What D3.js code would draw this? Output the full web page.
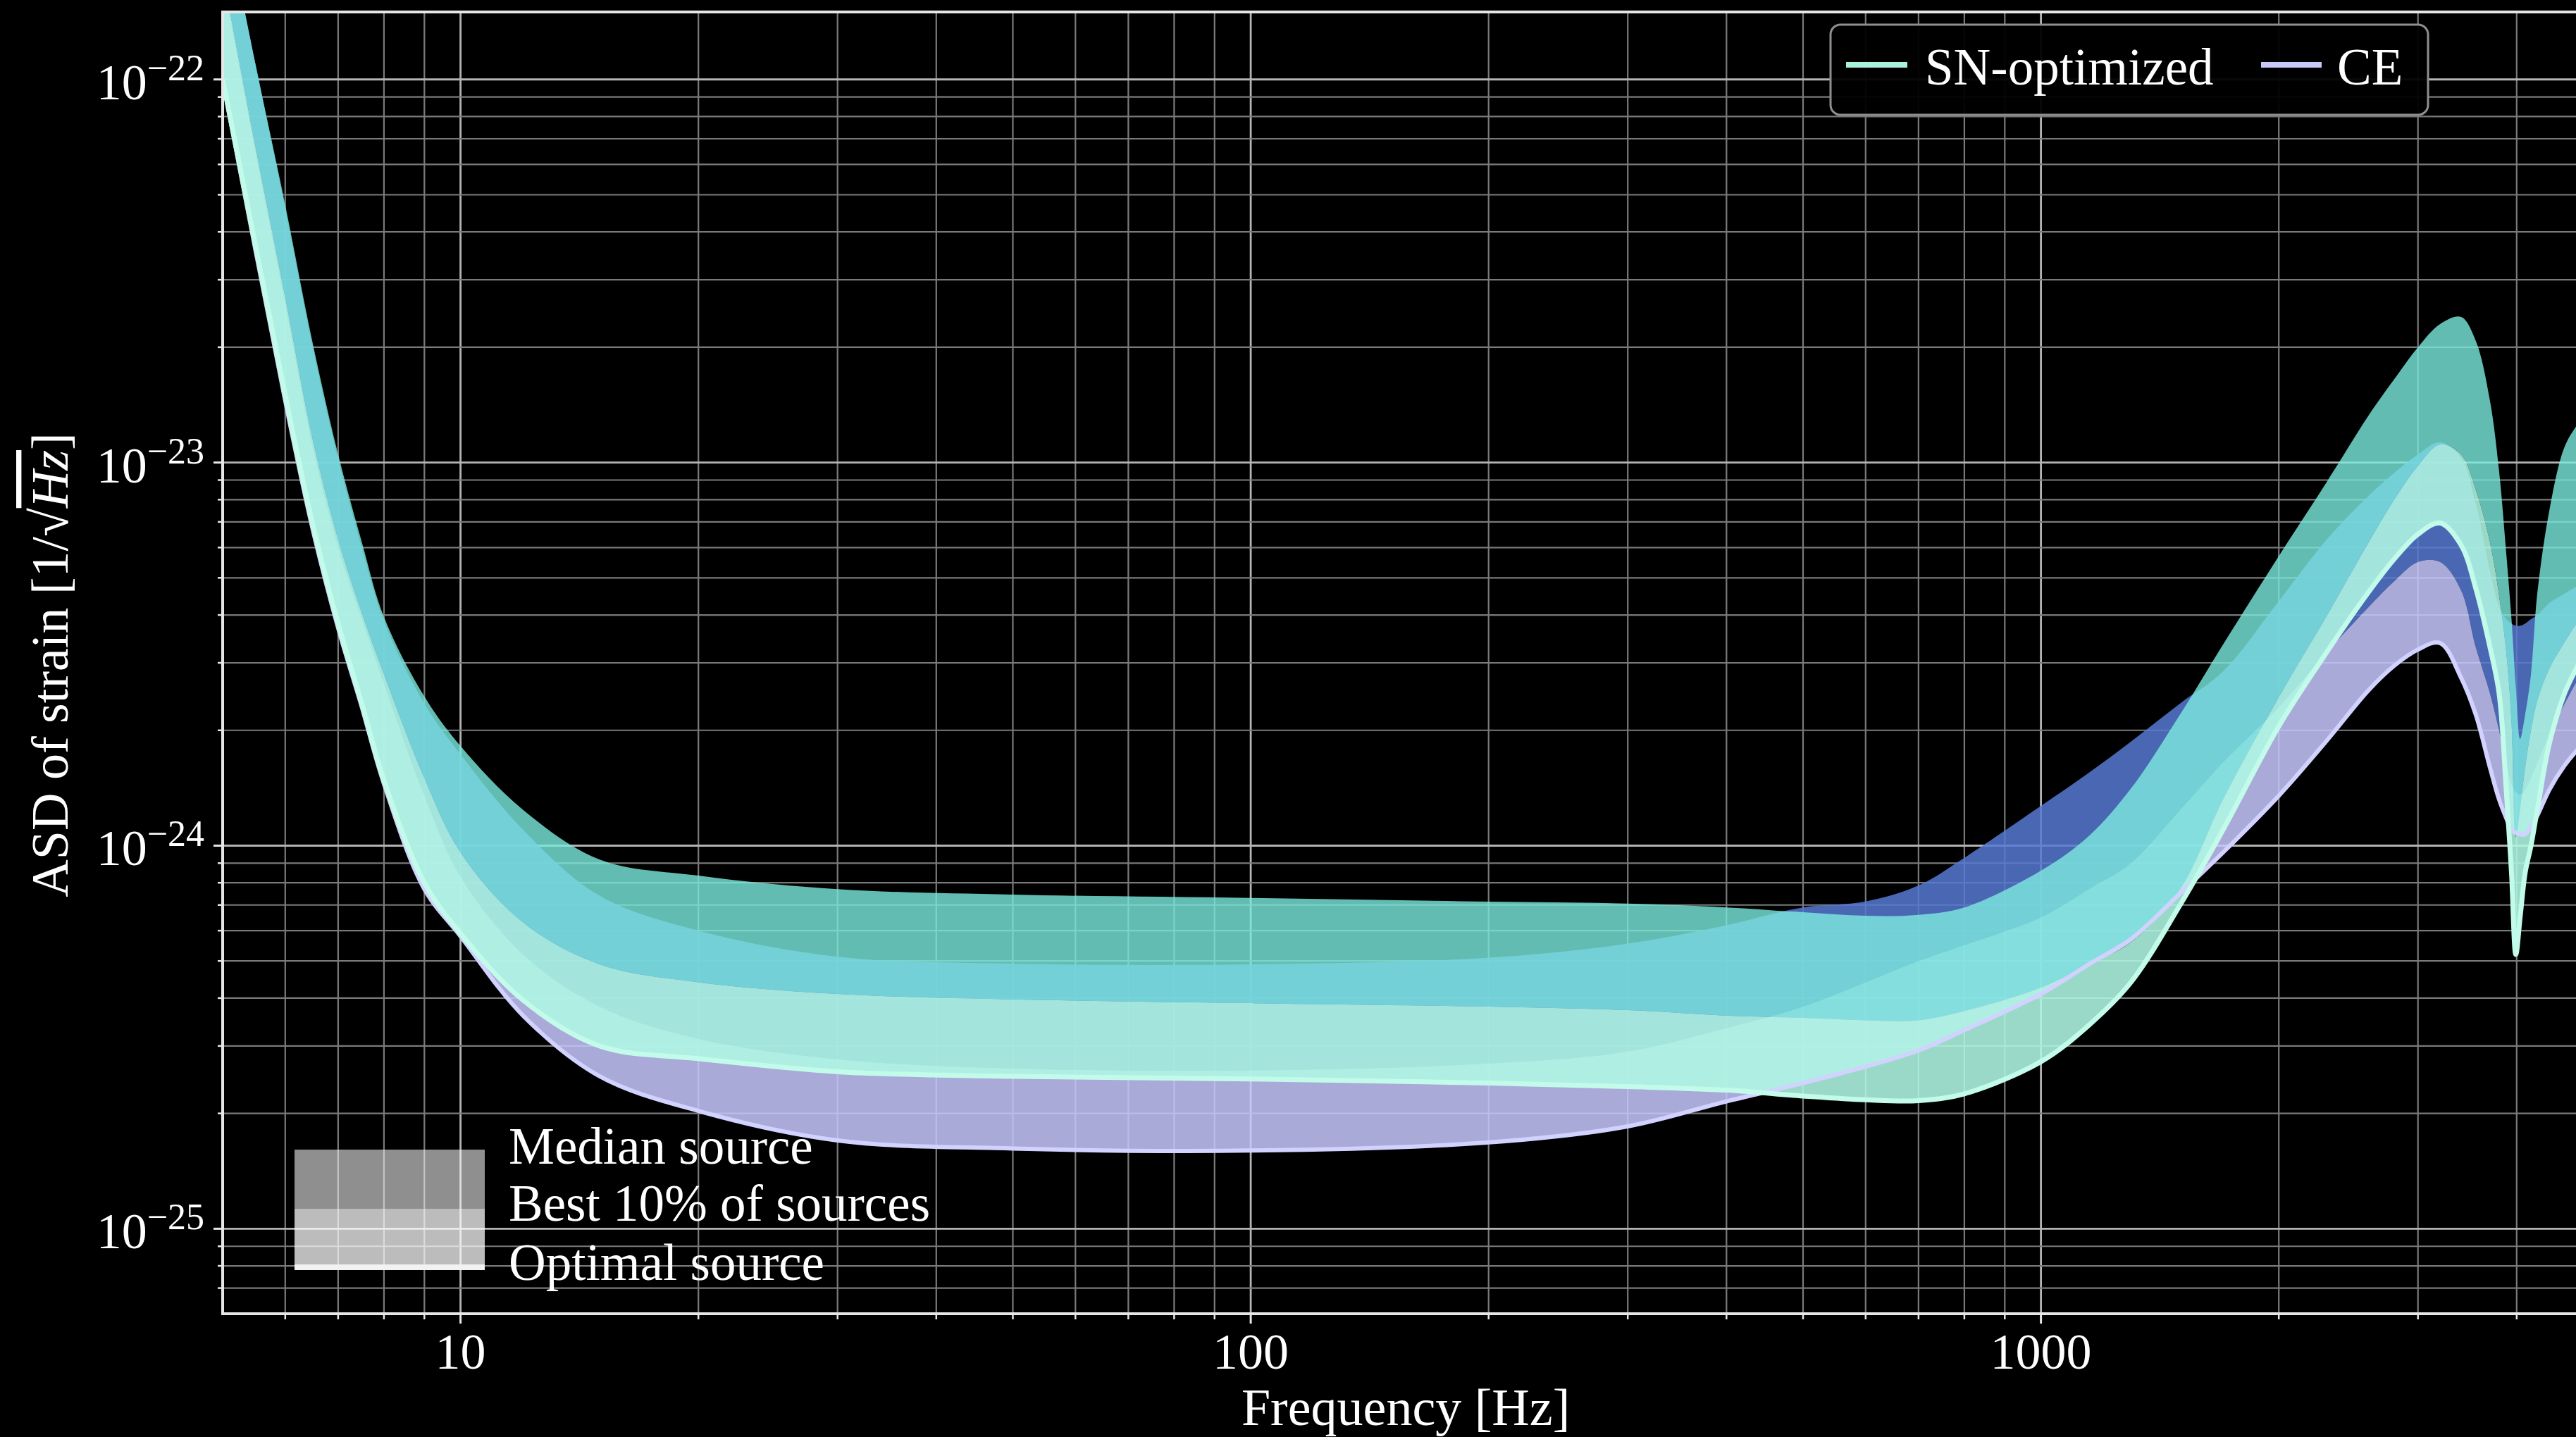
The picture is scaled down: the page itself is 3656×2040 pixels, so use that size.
<!DOCTYPE html>
<html>
<head>
<meta charset="utf-8">
<script src="https://cdn.jsdelivr.net/npm/d3@7"></script>
<style>
  html, body { margin: 0; padding: 0; background: #000; }
  svg { display: block; }
</style>
</head>
<body>
<svg id="chart" width="3656" height="2040"></svg>
<script>
// Frequencies (Hz) at which the strain ASD curves are sampled
const freq = [5, 5.5, 6, 6.5, 7, 7.5, 8, 9, 10, 12, 15, 20, 30, 50, 100, 200, 300, 400, 500, 600,
  700, 800, 1000, 1150, 1300, 1500, 1700, 2000, 2300, 2600, 2800, 3000, 3200, 3400, 3550, 3700,
  3800, 3880, 3940, 3990, 4040, 4100, 4170, 4250, 4400, 4600, 4800, 5000];

// SN-optimized detector: median source, best 10% of sources, optimal source
const snMedian = [2.9e-22, 1.1e-22, 4.7e-23, 2.05e-23, 1.05e-23, 6.2e-24, 3.95e-24, 2.45e-24, 1.82e-24, 1.24e-24,
  9.2e-25, 8.35e-25, 7.7e-25, 7.45e-25, 7.3e-25, 7.14e-25, 7.06e-25, 6.9e-25, 6.7e-25, 6.56e-25,
  6.6e-25, 6.9e-25, 8.6e-25, 1.06e-24, 1.41e-24, 2.2e-24, 3.35e-24, 5.7e-24, 8.9e-24, 1.33e-23,
  1.65e-23, 2.0e-23, 2.3e-23, 2.4e-23, 2.08e-23, 1.45e-23, 9.5e-24, 5.8e-24, 3.9e-24, 2.6e-24,
  1.9e-24, 2.2e-24, 2.8e-24, 4.6e-24, 7.5e-24, 1.1e-23, 1.28e-23, 1.45e-23];
const snBest10 = [1.9e-22, 6.7e-23, 2.7e-23, 1.15e-23, 6.3e-24, 4.05e-24, 2.8e-24, 1.5e-24, 9.6e-25, 6.3e-25,
  4.9e-25, 4.4e-25, 4.1e-25, 3.97e-25, 3.88e-25, 3.8e-25, 3.72e-25, 3.6e-25, 3.55e-25, 3.5e-25,
  3.5e-25, 3.7e-25, 4.26e-25, 4.9e-25, 5.6e-25, 7.7e-25, 1.32e-24, 2.44e-24, 3.98e-24, 6.2e-24,
  8.0e-24, 9.8e-24, 1.115e-23, 1.05e-23, 8.5e-24, 6.2e-24, 4.5e-24, 3.2e-24, 2.1e-24, 1.05e-24,
  1.25e-24, 1.6e-24, 2.0e-24, 2.4e-24, 2.9e-24, 3.4e-24, 3.9e-24, 4.4e-24];
const snOptimal = [1.0e-22, 3.7e-23, 1.5e-23, 6.9e-24, 3.8e-24, 2.35e-24, 1.48e-24, 8.0e-25, 5.9e-25, 3.95e-25,
  3.0e-25, 2.78e-25, 2.57e-25, 2.5e-25, 2.46e-25, 2.4e-25, 2.35e-25, 2.3e-25, 2.22e-25, 2.17e-25,
  2.16e-25, 2.25e-25, 2.73e-25, 3.4e-25, 4.4e-25, 7.0e-25, 1.1e-24, 2.05e-24, 3.2e-24, 4.6e-24,
  5.6e-24, 6.5e-24, 6.95e-24, 6.1e-24, 4.7e-24, 3.3e-24, 2.5e-24, 1.4e-24, 8.5e-25, 5.2e-25,
  6.5e-25, 8.5e-25, 1.0e-24, 1.25e-24, 1.85e-24, 2.5e-24, 3.0e-24, 3.5e-24];

// CE detector: median source, best 10% of sources, optimal source
const ceMedian = [2.9e-22, 1.1e-22, 4.6e-23, 2.0e-23, 1.02e-23, 6.0e-24, 3.85e-24, 2.35e-24, 1.73e-24, 1.1e-24,
  7.4e-25, 6.0e-25, 5.13e-25, 4.92e-25, 4.9e-25, 5.1e-25, 5.55e-25, 6.2e-25, 6.9e-25, 7.15e-25,
  7.87e-25, 9.3e-25, 1.27e-24, 1.55e-24, 1.87e-24, 2.35e-24, 2.85e-24, 4.35e-24, 6.3e-24, 8.2e-24,
  9.4e-24, 1.05e-23, 1.13e-23, 1.03e-23, 7.8e-24, 5.2e-24, 4.2e-24, 3.9e-24, 3.8e-24, 3.75e-24,
  3.75e-24, 3.8e-24, 3.9e-24, 4.0e-24, 4.3e-24, 4.55e-24, 4.8e-24, 5.1e-24];
const ceBest10 = [1.85e-22, 6.5e-23, 2.6e-23, 1.1e-23, 6.0e-24, 3.9e-24, 2.65e-24, 1.35e-24, 8.3e-25, 5.2e-25,
  3.8e-25, 3.13e-25, 2.77e-25, 2.62e-25, 2.59e-25, 2.7e-25, 2.9e-25, 3.34e-25, 3.8e-25, 4.4e-25,
  5.0e-25, 5.5e-25, 6.5e-25, 7.7e-25, 9.0e-25, 1.24e-24, 1.65e-24, 2.3e-24, 3.2e-24, 4.2e-24,
  4.9e-24, 5.5e-24, 5.5e-24, 4.65e-24, 3.3e-24, 2.5e-24, 2.0e-24, 1.65e-24, 1.45e-24, 1.38e-24,
  1.36e-24, 1.4e-24, 1.5e-24, 1.65e-24, 1.95e-24, 2.35e-24, 2.75e-24, 3.1e-24];
const ceOptimal = [1.0e-22, 3.6e-23, 1.45e-23, 6.7e-24, 3.7e-24, 2.3e-24, 1.45e-24, 7.7e-25, 5.8e-25, 3.6e-25,
  2.5e-25, 2.03e-25, 1.7e-25, 1.62e-25, 1.6e-25, 1.68e-25, 1.85e-25, 2.15e-25, 2.4e-25, 2.65e-25,
  2.92e-25, 3.3e-25, 4.1e-25, 4.9e-25, 5.7e-25, 7.5e-25, 9.6e-25, 1.35e-24, 1.88e-24, 2.55e-24,
  2.95e-24, 3.25e-24, 3.38e-24, 2.75e-24, 2.2e-24, 1.6e-24, 1.32e-24, 1.18e-24, 1.1e-24, 1.08e-24,
  1.07e-24, 1.07e-24, 1.12e-24, 1.2e-24, 1.4e-24, 1.62e-24, 1.8e-24, 1.95e-24];

// Axis labelling
const xTickLabels = [10, 100, 1000];
const yTickExponents = [-22, -23, -24, -25];
const detectorNames = ["SN-optimized", "CE"];
const sourceLabels = ["Median source", "Best 10% of sources", "Optimal source"];

// ---------------------------------------------------------------------------
const W = 3656, H = 2040;
const plotLeft = 316, plotTop = 17, plotBottom = 1865, plotRight = 3680.5;
const FONT = "'Liberation Serif', 'Times New Roman', 'DejaVu Serif', serif";

const svg = d3.select("#chart");
svg.append("rect").attr("width", W).attr("height", H).attr("fill", "#000");

const x = d3.scaleLog().domain([5, 5000]).range([plotLeft, plotRight]);
const y = d3.scaleLog().domain([6e-26, 1.5e-22]).range([plotBottom, plotTop]);

const isDecade = v => Math.abs(Math.log10(v) - Math.round(Math.log10(v))) < 1e-9;

svg.append("clipPath").attr("id", "plot-clip")
  .append("rect").attr("x", plotLeft).attr("y", plotTop)
  .attr("width", W - plotLeft).attr("height", plotBottom - plotTop);

// Grid (major and minor, both axes)
const grid = svg.append("g").attr("clip-path", "url(#plot-clip)");
const xGridVals = x.ticks().filter(v => v > 5 && v < 5000);
const yGridVals = y.ticks().filter(v => v > 6e-26 && v < 1.5e-22);
grid.selectAll("line.xg").data(xGridVals).join("line")
  .attr("x1", d => x(d)).attr("x2", d => x(d))
  .attr("y1", plotTop).attr("y2", plotBottom)
  .attr("stroke", d => isDecade(d) ? "#b4b4b4" : "#7a7a7a")
  .attr("stroke-width", d => isDecade(d) ? 2.8 : 2.2);
grid.selectAll("line.yg").data(yGridVals).join("line")
  .attr("y1", d => y(d)).attr("y2", d => y(d))
  .attr("x1", plotLeft).attr("x2", W)
  .attr("stroke", d => isDecade(d) ? "#b4b4b4" : "#7a7a7a")
  .attr("stroke-width", d => isDecade(d) ? 2.8 : 2.2);

// Bands: median→best-10% and best-10%→optimal for each detector
const band = (lo, hi) => freq.map((f, i) => ({ f, lo: lo[i], hi: hi[i] }));
const smooth = d3.curveCatmullRom.alpha(0.5);
const area = d3.area()
  .x(d => x(d.f)).y0(d => y(d.lo)).y1(d => y(d.hi))
  .curve(smooth);
const line = d3.line()
  .x((d, i) => x(freq[i])).y(d => y(d))
  .curve(smooth);

const marks = svg.append("g").attr("clip-path", "url(#plot-clip)");
const bands = [
  { data: band(ceBest10, ceMedian), fill: "#5779d4", op: 0.85 },
  { data: band(ceOptimal, ceBest10), fill: "#c8c8ff", op: 0.85 },
  { data: band(snBest10, snMedian), fill: "#7cebde", op: 0.80 },
  { data: band(snOptimal, snBest10), fill: "#aff7e3", op: 0.88 }
];
marks.selectAll("path.band").data(bands).join("path")
  .attr("d", d => area(d.data))
  .attr("fill", d => d.fill).attr("fill-opacity", d => d.op);

// Optimal-source curves
const optLines = [
  { data: ceOptimal, color: "#d2d2ff", w: 6 },
  { data: snOptimal, color: "#c2fbea", w: 7 }
];
marks.selectAll("path.opt").data(optLines).join("path")
  .attr("d", d => line(d.data))
  .attr("fill", "none").attr("stroke", d => d.color).attr("stroke-width", d => d.w)
  .attr("stroke-linejoin", "round");

// Spines
const spine = svg.append("g").attr("stroke", "#e6e6e6").attr("stroke-width", 4);
spine.append("line").attr("x1", plotLeft).attr("x2", plotLeft).attr("y1", plotTop - 2).attr("y2", plotBottom + 2);
spine.append("line").attr("x1", plotLeft).attr("x2", W).attr("y1", plotBottom).attr("y2", plotBottom);
spine.append("line").attr("x1", plotLeft).attr("x2", W).attr("y1", plotTop).attr("y2", plotTop);

// Ticks
const ticks = svg.append("g").attr("stroke", "#e6e6e6");
ticks.selectAll("line.yt").data(yGridVals).join("line")
  .attr("x1", d => plotLeft - (isDecade(d) ? 13 : 7)).attr("x2", plotLeft)
  .attr("y1", d => y(d)).attr("y2", d => y(d))
  .attr("stroke-width", d => isDecade(d) ? 3 : 2.5);
ticks.selectAll("line.xt").data(xGridVals).join("line")
  .attr("y1", plotBottom).attr("y2", d => plotBottom + (isDecade(d) ? 14 : 8))
  .attr("x1", d => x(d)).attr("x2", d => x(d))
  .attr("stroke-width", d => isDecade(d) ? 3 : 2.5);

// Tick labels
const labels = svg.append("g").attr("fill", "#fff").attr("font-family", FONT);
labels.selectAll("text.xl").data(xTickLabels).join("text")
  .attr("x", d => x(d)).attr("y", plotBottom + 78)
  .attr("text-anchor", "middle").attr("font-size", 72)
  .text(d => d);
const yl = labels.selectAll("text.yl").data(yTickExponents).join("text")
  .attr("x", 290).attr("y", d => y(Math.pow(10, d)) + 28)
  .attr("text-anchor", "end").attr("font-size", 72);
yl.append("tspan").text("10");
yl.append("tspan").attr("dy", -27).attr("font-size", 52).text(d => "\u2212" + Math.abs(d));

// Axis titles
labels.append("text")
  .attr("x", (x(10) + x(1000)) / 2 + 220).attr("y", 2023)
  .attr("text-anchor", "middle").attr("font-size", 74)
  .text("Frequency [Hz]");
const yTitle = labels.append("text")
  .attr("transform", "translate(96,944) rotate(-90)")
  .attr("text-anchor", "middle").attr("font-size", 74);
yTitle.append("tspan").text("ASD of strain [1/\u221A");
yTitle.append("tspan").attr("font-style", "italic")
  .style("text-decoration", "overline").text("Hz");
yTitle.append("tspan").text("]");

// Detector legend
const lg = svg.append("g").attr("font-family", FONT);
lg.append("rect").attr("x", 2598).attr("y", 35).attr("width", 848).attr("height", 128)
  .attr("rx", 14).attr("fill", "#000").attr("fill-opacity", 0.95)
  .attr("stroke", "#8f8f8f").attr("stroke-width", 3);
const legendItems = [
  { name: detectorNames[0], color: "#a6f2dc", x0: 2620, x1: 2707, tx: 2732 },
  { name: detectorNames[1], color: "#c8c8fa", x0: 3209, x1: 3295, tx: 3317 }
];
lg.selectAll("line.h").data(legendItems).join("line")
  .attr("x1", d => d.x0).attr("x2", d => d.x1).attr("y1", 92).attr("y2", 92)
  .attr("stroke", d => d.color).attr("stroke-width", 8);
lg.selectAll("text.t").data(legendItems).join("text")
  .attr("x", d => d.tx).attr("y", 120).attr("font-size", 73).attr("fill", "#fff")
  .text(d => d.name);

// Source-class legend
const sl = svg.append("g").attr("font-family", FONT);
sl.append("rect").attr("x", 418).attr("y", 1632).attr("width", 270).attr("height", 171)
  .attr("fill", "#fff").attr("fill-opacity", 0.56);
sl.append("rect").attr("x", 418).attr("y", 1716).attr("width", 270).attr("height", 87)
  .attr("fill", "#fff").attr("fill-opacity", 0.4);
sl.append("rect").attr("x", 418).attr("y", 1795).attr("width", 270).attr("height", 8)
  .attr("fill", "#f2f2f2");
sl.selectAll("text").data(sourceLabels).join("text")
  .attr("x", 722).attr("y", (d, i) => [1652, 1733, 1817][i])
  .attr("font-size", 73).attr("fill", "#fff")
  .text(d => d);
</script>
</body>
</html>
